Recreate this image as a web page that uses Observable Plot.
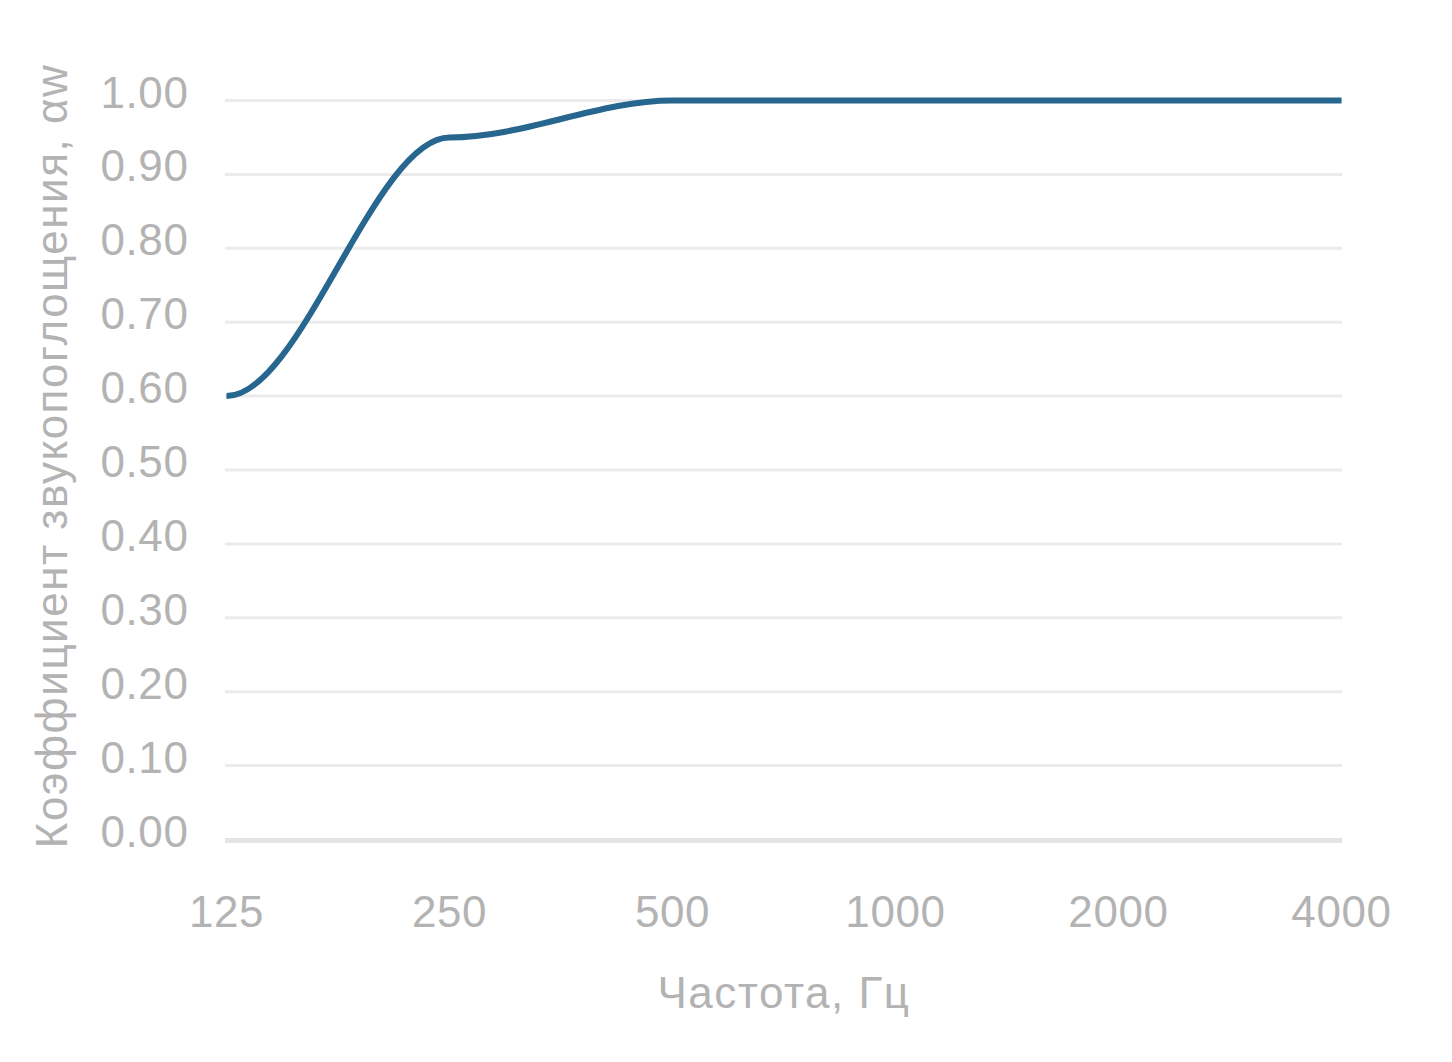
<!DOCTYPE html>
<html><head><meta charset="utf-8">
<script src="https://cdn.jsdelivr.net/npm/d3@7"></script>
<script src="https://cdn.jsdelivr.net/npm/@observablehq/plot@0.6"></script>
<style>body{margin:0;background:#fff}</style>
</head><body><div id="chart"></div>
<script>
const frequencies = ["125", "250", "500", "1000", "2000", "4000"];
const absorption = [0.60, 0.95, 1.00, 1.00, 1.00, 1.00];
const yTicks = [0, 0.1, 0.2, 0.3, 0.4, 0.5, 0.6, 0.7, 0.8, 0.9, 1.0];
const xTitle = "Частота, Гц";
const yTitle = "Коэффициент звукопоглощения, αw";

// Smooth curve: cubic Hermite in x with flat tangents at each data point
function SmoothFlat(context) { this._context = context; }
SmoothFlat.prototype = {
  areaStart() { this._line = 0; },
  areaEnd() { this._line = NaN; },
  lineStart() { this._px = []; this._py = []; },
  point(x, y) { this._px.push(+x); this._py.push(+y); },
  lineEnd() {
    const X = this._px, Y = this._py, n = X.length, c = this._context;
    if (!n) return;
    if (this._line) c.lineTo(X[0], Y[0]); else c.moveTo(X[0], Y[0]);
    for (let i = 1; i < n; ++i) {
      const h = (X[i] - X[i - 1]) / 3;
      c.bezierCurveTo(X[i - 1] + h, Y[i - 1], X[i] - h, Y[i], X[i], Y[i]);
    }
    if (this._line || (this._line !== 0 && n === 1)) c.closePath();
    this._line = 1 - this._line;
  }
};
const smoothFlat = (context) => new SmoothFlat(context);

const data = frequencies.map((f, i) => ({f, a: absorption[i]}));
const gray = "#b3b3b3";
const FS = 44;
const chart = Plot.plot({
  width: 1452, height: 1062,
  marginLeft: 225, marginRight: 110, marginTop: 100, marginBottom: 223,
  style: {fontFamily: "'Helvetica Neue', Helvetica, Arial, 'Liberation Sans', sans-serif", fontSize: FS + "px", color: gray, background: "#fff"},
  x: {type: "point", domain: frequencies, padding: 0},
  y: {domain: [0, 1]},
  marks: [
    Plot.ruleY(yTicks.filter(d => d > 0), {stroke: "#ebebeb", strokeWidth: 3}),
    Plot.ruleY([0], {stroke: "#e4e4e4", strokeWidth: 5, dy: 1}),
    Plot.axisY({ticks: yTicks, tickFormat: d => d.toFixed(2), tickSize: 0, tickPadding: 37, dy: -7, label: null, fontSize: FS, fill: gray}),
    Plot.axisX({tickSize: 0, tickPadding: 56, label: null, fontSize: FS, fill: gray}),
    Plot.line(data, {x: "f", y: "a", curve: smoothFlat, stroke: "#27668e", strokeWidth: 6, strokeLinecap: "butt"}),
    Plot.text([yTitle], {frameAnchor: "left", textAnchor: "middle", rotate: -90, dx: -159, dy: -14, lineAnchor: "bottom", fontSize: FS, fill: gray}),
    Plot.text([xTitle], {frameAnchor: "bottom", textAnchor: "middle", dy: 168, lineAnchor: "bottom", fontSize: FS, fill: gray})
  ]
});
d3.select(chart).selectAll("g[aria-label='text'] text").style("letter-spacing", "1.5px");
d3.select(chart).selectAll("g[aria-label$='tick label'] text").style("letter-spacing", "0.6px");
document.getElementById("chart").appendChild(chart);
</script>
</body></html>
